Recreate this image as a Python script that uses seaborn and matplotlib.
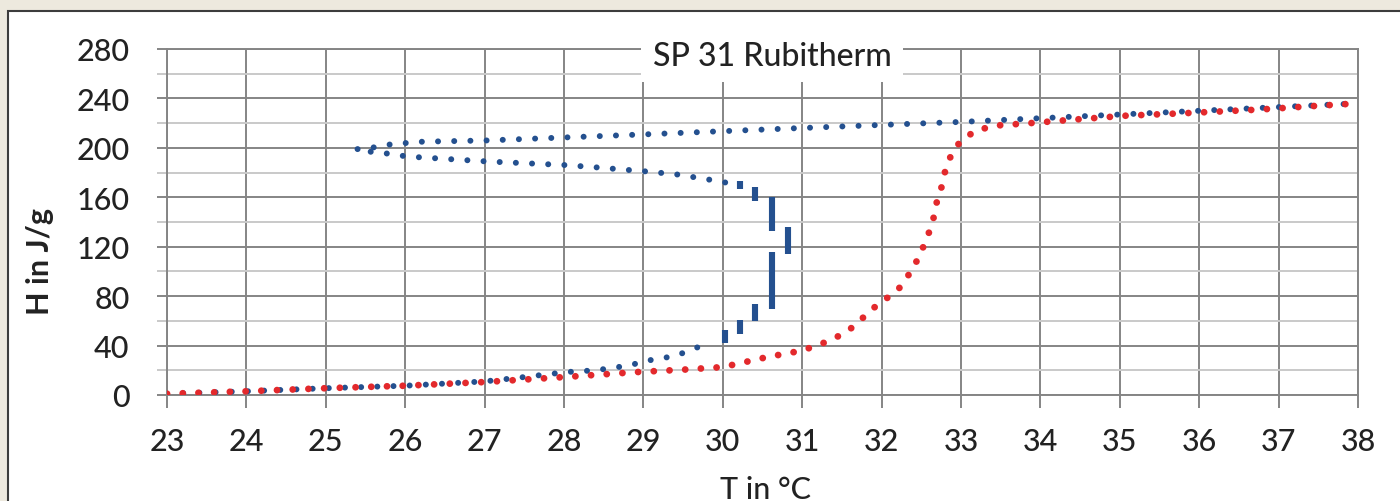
import numpy as np
import pandas as pd
import matplotlib
matplotlib.use("Agg")
import matplotlib.pyplot as plt
from matplotlib.patches import Rectangle
import seaborn as sns

sns.set_theme(style="white")
plt.rcParams["font.family"] = ["Lato", "DejaVu Sans"]

# red curve (heating)
red_T = [23, 24, 25, 26, 27, 28, 28.9, 29.5, 30.0, 30.56, 30.97, 31.17, 31.38, 31.58,
         31.74, 31.89, 32.06, 32.23, 32.37, 32.49, 32.56, 32.64, 32.68, 32.75, 32.80,
         32.88, 33.0, 33.19, 33.43, 33.87, 34.35, 35.07, 35.8, 36.76, 37.48, 38]
red_H = [1, 3, 5.5, 7.5, 10.5, 14.5, 18.5, 20.5, 22.6, 30.7, 35.6, 39.6, 45, 52,
         61, 70, 78, 87, 100, 114, 126, 138, 153, 167, 181,
         195, 206, 214, 218, 220, 222.5, 226, 228, 231, 234, 236]

# blue curve (cooling), three branches
blue_low_T = [23, 24, 25, 26, 27, 27.4, 28.04, 28.4, 28.83, 29.02, 29.42, 29.6, 29.81]
blue_low_H = [1, 3, 5.5, 7.5, 11, 13.8, 18.6, 20, 24, 27.5, 31.8, 37, 41]
blue_mid_T = [30.03, 29.81, 29.42, 29.02, 28.45, 28.04, 27.03, 26.4, 26.02, 25.83, 25.4]
blue_mid_H = [172, 174.5, 178.5, 181, 184, 186, 189, 191.5, 193, 195, 198]
blue_up_T = [25.4, 25.62, 25.83, 26.22, 27.03, 28.04, 29.05, 30.0, 30.97, 32.18,
             33.0, 33.5, 34, 35, 36, 37, 38]
blue_up_H = [199, 200.5, 203, 205, 206, 208.5, 211, 213.5, 216, 219,
             221, 222.5, 224, 227, 230, 233, 236]

# steep jump near 30.6 °C, drawn as short bars
jump_T = [30.03, 30.22, 30.41, 30.62, 30.62, 30.82, 30.41, 30.22]
jump_lo = [42, 49, 60, 70, 133, 114, 157, 167]
jump_hi = [53, 61, 74, 116, 160, 136, 168, 173]

blue = pd.concat([
    pd.DataFrame({"T": blue_low_T, "H": blue_low_H, "branch": "low"}),
    pd.DataFrame({"T": blue_mid_T, "H": blue_mid_H, "branch": "mid"}),
    pd.DataFrame({"T": blue_up_T, "H": blue_up_H, "branch": "up"}),
])
red = pd.DataFrame({"T": red_T, "H": red_H})

fig = plt.figure(figsize=(14, 5.02), dpi=100)
fig.patch.set_facecolor("#EDE9DE")
fig.patches.append(Rectangle((8 / 1400, -0.05), 1.1, 1 - 12 / 502 + 0.05,
                             transform=fig.transFigure, facecolor="white",
                             edgecolor="#3c3c3c", linewidth=1.5, zorder=-10))

ax = fig.add_axes([167 / 1400, 1 - 396 / 502, (1358 - 167) / 1400, (396 - 50) / 502])
ax.set_facecolor("white")

BLUE = "#24508f"
RED = "#e3292c"

sns.lineplot(data=blue, x="T", y="H", units="branch", estimator=None, sort=False,
             color=BLUE, linewidth=4.3, linestyle=(0, (0.01, 2.7)),
             dash_capstyle="round", ax=ax, zorder=3)
sns.lineplot(data=red, x="T", y="H", estimator=None, sort=False,
             color=RED, linewidth=4.9, linestyle=(0, (0.01, 2.3)),
             dash_capstyle="round", ax=ax, zorder=4)
ax.vlines(jump_T, jump_lo, jump_hi, color=BLUE, linewidth=4.4, zorder=3)

ax.set_xlim(23, 38)
ax.set_ylim(0, 280)
ax.set_xticks(range(23, 39))
ax.set_yticks(range(0, 281, 40))
ax.set_yticks(range(20, 281, 40), minor=True)

GRID = "#858585"
ax.grid(which="major", color=GRID, linewidth=1.4)
ax.grid(which="minor", axis="y", color="#c9c9c9", linewidth=1.4)
ax.set_axisbelow(True)
for s in ax.spines.values():
    s.set_color(GRID)
    s.set_linewidth(1.4)

ax.tick_params(axis="x", which="major", direction="out", length=9, width=1.4,
               color=GRID, labelsize=22, labelcolor="#222222", pad=14, bottom=True)
ax.tick_params(axis="y", which="major", direction="out", length=7, width=1.4,
               color=GRID, labelsize=22, labelcolor="#222222", pad=20, left=True)
ax.tick_params(axis="y", which="minor", direction="out", length=7, width=1.4,
               color="#c9c9c9", left=True)
for lab in ax.get_xticklabels() + ax.get_yticklabels():
    lab.set_fontweight("medium")

ax.set_xlabel("T in °C", fontsize=22, color="#222222", fontweight="medium")
ax.xaxis.set_label_coords((765 - 167) / 1191, -(476 - 396) / 346)
ax.set_ylabel("H in J/g", fontsize=22, color="#222222", fontweight="bold", va="center")
ax.yaxis.set_label_coords((40 - 167) / 1191, (396 - 262) / 346)

ax.text((772 - 167) / 1191, (396 - 57) / 346, "SP 31 Rubitherm", transform=ax.transAxes,
        ha="center", va="center", fontsize=23, color="#222222", zorder=6,
        fontweight="medium",
        bbox=dict(facecolor="white", edgecolor="none", pad=8))

fig.savefig("out.png", dpi=100, facecolor=fig.get_facecolor())
